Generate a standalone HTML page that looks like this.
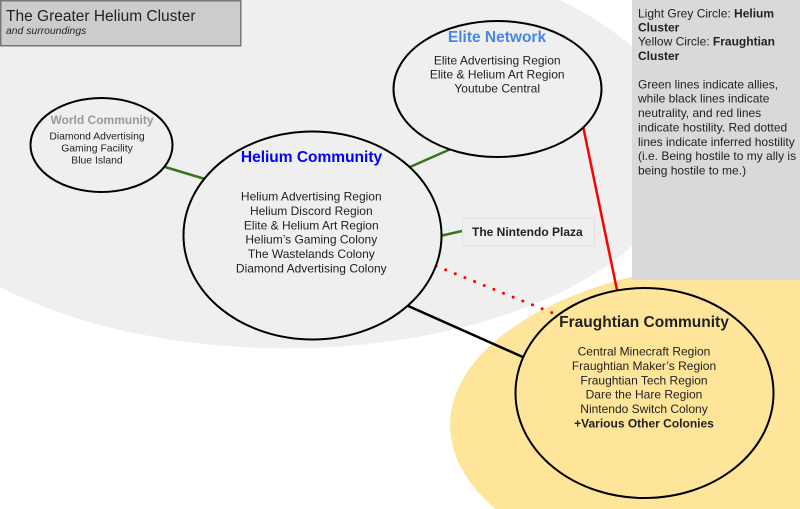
<!DOCTYPE html>
<html><head><meta charset="utf-8"><style>
html,body{margin:0;padding:0;background:#fff;width:800px;height:509px;overflow:hidden;}
svg{display:block;overflow:hidden;}
text{font-family:"Liberation Sans",Arial,sans-serif;fill:#222;}
.b{font-weight:bold;}
</style></head><body>
<svg width="800" height="509" viewBox="0 0 800 509" xmlns="http://www.w3.org/2000/svg">
<!-- background regions (clipped to frame) -->
<path d="M0,0 L560,0 A398,202 0 1 1 0,287 Z" fill="#efefef"/>
<path d="M495.4,509 A330,166 0 0 1 800,259.3 L800,509 Z" fill="#ffe599"/>
<rect x="632" y="0" width="168" height="280" fill="#d9d9d9"/>
<rect x="0.75" y="0.75" width="240" height="45" fill="#cccccc" stroke="#777" stroke-width="1.5"/>
<text x="6" y="21" font-size="15.5">The Greater Helium Cluster</text>
<text x="6" y="34" font-size="10.4" font-style="italic">and surroundings</text>

<!-- connectors -->
<line x1="165" y1="167" x2="205" y2="179" stroke="#38761d" stroke-width="2.5"/>
<line x1="410" y1="167" x2="453" y2="148" stroke="#38761d" stroke-width="2.5"/>
<line x1="440" y1="236" x2="462" y2="231" stroke="#38761d" stroke-width="2.5"/>
<line x1="583" y1="126" x2="617" y2="290" stroke="#ff0000" stroke-width="2.5"/>
<line x1="406" y1="305" x2="525" y2="358" stroke="#000" stroke-width="2.5"/>
<line x1="436" y1="266" x2="555" y2="314" stroke="#ff0000" stroke-width="3" stroke-dasharray="0 10.4" stroke-linecap="round"/>

<!-- nodes -->
<ellipse cx="101.5" cy="145" rx="71" ry="47" fill="#efefef" stroke="#000" stroke-width="2"/>
<ellipse cx="312.5" cy="235.5" rx="129" ry="104" fill="#efefef" stroke="#000" stroke-width="2"/>
<ellipse cx="497.5" cy="89" rx="104" ry="68" fill="#efefef" stroke="#000" stroke-width="2"/>
<ellipse cx="644.5" cy="393" rx="129" ry="105" fill="#ffe599" stroke="#000" stroke-width="2"/>
<rect x="462.5" y="218.5" width="132" height="27" fill="#efefef" stroke="#e2e2e2" stroke-width="1"/>

<!-- node text -->
<g text-anchor="middle">
<text x="102" y="124" font-size="12" class="b" style="fill:#999">World Community</text>
<text x="97" y="139.3" font-size="10.4">Diamond Advertising</text>
<text x="97" y="151.3" font-size="10.4">Gaming Facility</text>
<text x="97" y="163.3" font-size="10.4">Blue Island</text>

<text x="311.5" y="162" font-size="15.5" class="b" style="fill:#0000ff">Helium Community</text>
<text x="311.3" y="200.7" font-size="12">Helium Advertising Region</text>
<text x="311.3" y="215" font-size="12">Helium Discord Region</text>
<text x="311.3" y="229.3" font-size="12">Elite &amp; Helium Art Region</text>
<text x="311.3" y="243.7" font-size="12">Helium’s Gaming Colony</text>
<text x="311.3" y="258" font-size="12">The Wastelands Colony</text>
<text x="311.3" y="272.3" font-size="12">Diamond Advertising Colony</text>

<text x="497" y="42" font-size="15.5" class="b" style="fill:#4a86e8">Elite Network</text>
<text x="497.2" y="64.3" font-size="12">Elite Advertising Region</text>
<text x="497.2" y="78.7" font-size="12">Elite &amp; Helium Art Region</text>
<text x="497.2" y="92.7" font-size="12">Youtube Central</text>

<text x="644" y="327" font-size="15.5" class="b">Fraughtian Community</text>
<text x="644" y="355.7" font-size="12">Central Minecraft Region</text>
<text x="644" y="370" font-size="12">Fraughtian Maker’s Region</text>
<text x="644" y="384.3" font-size="12">Fraughtian Tech Region</text>
<text x="644" y="398.7" font-size="12">Dare the Hare Region</text>
<text x="644" y="413" font-size="12">Nintendo Switch Colony</text>
<text x="644" y="427.3" font-size="12" class="b">+Various Other Colonies</text>
</g>
<text x="472" y="236" font-size="12" class="b">The Nintendo Plaza</text>

<!-- legend -->
<g font-size="12">
<text x="638" y="17.3">Light Grey Circle: <tspan class="b">Helium</tspan></text>
<text x="638" y="31.7" class="b">Cluster</text>
<text x="638" y="45.7">Yellow Circle: <tspan class="b">Fraughtian</tspan></text>
<text x="638" y="60" class="b">Cluster</text>
<text x="638" y="88.3">Green lines indicate allies,</text>
<text x="638" y="102.7">while black lines indicate</text>
<text x="638" y="117">neutrality, and red lines</text>
<text x="638" y="131.4">indicate hostility. Red dotted</text>
<text x="638" y="145.8">lines indicate inferred hostility</text>
<text x="638" y="160.2">(i.e. Being hostile to my ally is</text>
<text x="638" y="174.6">being hostile to me.)</text>
</g>
</svg>
</body></html>
